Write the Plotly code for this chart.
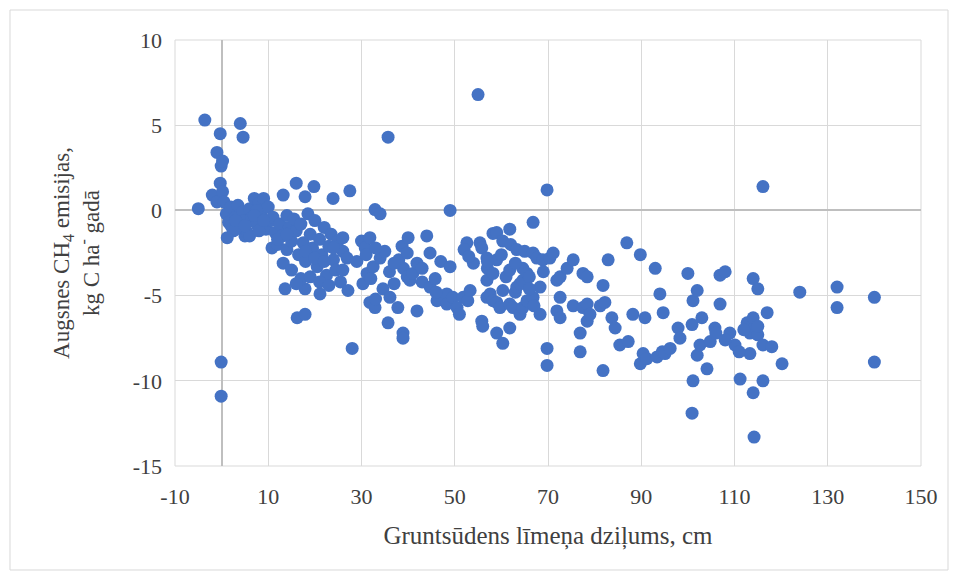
import plotly.graph_objects as go

# Groundwater level depth (cm) and soil CH4 emission (kg C ha-1 yr-1)
depth = [
    -5, -3.6, -2, -1, -0.3, -1, -0.1, 0.2, -0.3, 0.2, 0.5, 4.0, 4.6, -0.1, -0.1,
    1, 1.5, 1.2, 2, 2.5, 3, 3.5, 4, 4.5, 5, 5, 5.5, 6, 6.5, 7, 7.5, 8, 8.5, 9, 9.5, 10, 10.5, 6, 2, 3, 8, 7.5,
    10.8, 11, 11.5, 12, 12.5, 13, 13.2, 13.2, 13.6, 14, 14, 14.5, 15, 15.5, 16, 16, 16.2, 16.5, 17, 17.5,
    17.9, 17.9, 17.9, 18, 18.5, 19, 19.5, 19.8, 20, 20.5, 21, 21.1, 21.5, 22, 22.5, 23, 23.5, 23.9, 24,
    24.5, 25, 25.5, 26, 26, 26.9, 26, 27.5, 27.1, 15, 17, 19, 21, 23, 16, 28,
    29, 30, 30.3, 30.8, 31, 31.2, 31.8, 31.8, 32, 32.5, 32.9, 32.9, 33, 34, 34, 34.6, 35, 35.7, 35.7, 36,
    36.1, 37, 37.8, 38, 38.7, 38.9, 38.9, 39, 39.8, 39.8, 40, 40.4, 41, 41.9, 41.9, 43, 44, 44.7, 44.7,
    45.8, 46.2, 47, 48.3, 48.3, 49, 49, 49.6, 50.5, 51, 51.8, 52.6, 52.8, 53.3, 52, 54, 55.4, 55.8, 55.8,
    56, 56.9, 56.9, 56.9, 55, 57, 57.6, 58.2, 58.2, 58.2,
    59, 59, 59, 59, 59.7, 60, 60.3, 60.3, 60.3, 61, 61.8, 61.8, 61.8, 61.8, 62, 62.5, 63, 63.3, 63.3, 64,
    64, 64.6, 64.6, 64.6, 65, 65.5, 65.5, 66, 66.8, 66.8, 66.8, 67, 67.6, 68.3, 68.3, 68.9, 69, 69.8,
    69.8, 69.8, 70.4,
    71.1, 71.9, 71.9, 72.6, 72.6, 72.6, 74.1, 75.4, 75.4, 76.9, 76.9, 77.5, 77.5, 78.4, 78.4, 78.4, 79,
    81.2, 81.8, 81.8, 82.2, 82.9, 83.7, 84.4, 85.4, 86.9, 87.2, 88.2, 89.8, 89.8, 90.4, 90.8, 91.2,
    93, 93.4, 94, 94.5, 94.7, 95.1, 96.2, 97.9, 98.3, 100, 100.9, 100.9, 101.1, 101.1, 102, 102, 102.6,
    104.1, 104.8, 105.8, 106.9, 106.9, 108, 109, 110.1, 111.2, 112.7, 113.3, 113.3, 114, 114, 114, 114.2,
    115, 115, 116.1, 116.1, 116.1, 117, 118, 120.2, 124, 132, 132, 140, 140,
    103, 106, 108, 111, 112, 115,
    3, 5, 7, 9, 12, 14, 18, 20, 22, 24, 33, 37, 43, 46, 53, 57, 63, 66,
]
emission = [
    0.1, 5.3, 0.9, 0.5, 4.5, 3.4, 2.6, 2.9, 1.6, 1.1, 0.5, 5.1, 4.3, -8.9, -10.9,
    -0.2, -0.7, -1.6, 0.2, -1.2, -0.4, 0.3, -0.9, -0.1, -0.6, -1.5, -1.3, 0.1, -0.4, 0.7, -0.8, 0.4, -0.2, 0.7, -1.1, 0.2, -0.6, -1.5, -0.9, -1.1, -1.2, 0.0,
    -2.2, -0.4, -1.3, -2.0, -0.8, -1.5, 0.9, -3.1, -4.6, -0.3, -2.3, -1.0, -1.8, -0.5, 1.6, -1.2, -6.3, -2.6, -0.8, -1.9,
    0.8, -6.1, -4.6, -3.0, -0.2, -1.4, -2.2, 1.4, -0.6, -3.3, -1.7, -4.9, -2.6, -1.0, -3.8, -2.1, -1.4, 0.7, -2.9,
    -3.5, -1.8, -4.2, -2.4, -1.6, -2.8, -3.5, 1.15, -4.7, -3.5, -4.0, -3.9, -4.2, -4.4, -4.3, -8.1,
    -3.0, -1.8, -4.3, -2.2, -2.6, -3.7, -1.6, -5.4, -4.0, -3.3, 0.05, -5.7, -5.2, -0.2, -2.8, -4.6, -2.4, 4.3, -6.6, -3.6,
    -5.1, -4.3, -5.7, -2.9, -2.1, -7.2, -7.5, -3.4, -3.9, -2.5, -1.6, -4.1, -3.7, -3.1, -5.9, -4.2, -1.5, -2.5, -4.5,
    -4.0, -5.3, -3.0, -4.9, -5.5, 0.0, -3.3, -5.1, -5.7, -6.1, -5.1, -1.9, -5.3, -4.7, -2.3, -3.1, -1.9, -2.2, -6.5,
    -6.8, -2.8, -4.1, -5.1, 6.8, -3.4, -4.9, -1.35, -3.7, -5.3,
    -1.3, -2.9, -5.4, -7.2, -5.7, -2.6, -1.8, -4.7, -7.8, -3.9, -1.1, -3.5, -5.5, -6.9, -2.0, -5.7, -4.8, -2.3, -4.5, -4.3,
    -6.1, -3.4, -4.1, -5.7, -2.4, -3.7, -5.3, -3.9, -0.7, -2.5, -5.1, -5.6, -2.8, -4.5, -6.1, -2.9, -3.6, 1.2,
    -8.1, -9.1, -2.8,
    -2.5, -4.1, -5.9, -3.9, -5.1, -6.3, -3.4, -2.9, -5.6, -7.2, -8.3, -3.7, -5.7, -3.9, -5.5, -6.5, -6.1,
    -5.6, -4.4, -9.4, -5.4, -2.9, -6.3, -6.9, -7.9, -1.9, -7.7, -6.1, -2.6, -9.0, -8.4, -6.3, -8.7,
    -3.4, -8.6, -4.9, -8.3, -6.0, -8.4, -8.1, -6.9, -7.5, -3.7, -6.7, -11.9, -5.3, -10.0, -4.7, -8.5, -7.9,
    -9.3, -7.7, -6.9, -3.8, -5.5, -3.6, -7.2, -7.9, -9.9, -6.6, -7.2, -8.4, -4.0, -6.3, -10.7, -13.3,
    -4.6, -7.3, 1.4, -7.9, -10.0, -6.0, -8.0, -9.0, -4.8, -4.5, -5.7, -5.1, -8.9,
    -6.3, -7.2, -7.6, -8.3, -7.0, -6.8,
    -0.6, -0.9, -0.3, -0.6, -1.7, -1.4, -2.4, -2.8, -3.0, -2.2, -2.2, -3.1, -3.4, -4.8, -2.7, -3.0, -3.1, -4.6,
]

x_ticks = [-10, 10, 30, 50, 70, 90, 110, 130, 150]
y_ticks = [-15, -10, -5, 0, 5, 10]

family = "Liberation Serif, Times New Roman, serif"
txt_color = "#404040"

fig = go.Figure()
fig.add_trace(go.Scatter(
    x=depth, y=emission, mode="markers",
    marker=dict(color="#4472C4", size=13, line=dict(width=0)),
    showlegend=False,
))

fig.update_layout(
    width=958, height=579,
    margin=dict(l=175, r=37, t=40, b=113),
    paper_bgcolor="white", plot_bgcolor="white",
    font=dict(family=family, size=22, color=txt_color),
    xaxis=dict(
        range=[-10, 150], tickvals=x_ticks, ticktext=[str(v) for v in x_ticks],
        showgrid=True, gridcolor="#d9d9d9", gridwidth=1,
        zeroline=True, zerolinecolor="#bfbfbf", zerolinewidth=1.5,
        showline=False, ticks="", ticklabelstandoff=15,
        tickfont=dict(family=family, size=22, color=txt_color),
        title=dict(text="Gruntsūdens līmeņa dziļums, cm", standoff=18,
                   font=dict(family=family, size=25, color=txt_color)),
    ),
    yaxis=dict(
        range=[-15, 10], tickvals=y_ticks, ticktext=[str(v) for v in y_ticks],
        showgrid=True, gridcolor="#d9d9d9", gridwidth=1,
        zeroline=True, zerolinecolor="#bfbfbf", zerolinewidth=1.5,
        showline=False, ticks="", ticklabelstandoff=12,
        tickfont=dict(family=family, size=22, color=txt_color),
        title=dict(text="Augsnes CH<sub>4</sub> emisijas,<br>kg C ha<sup>-</sup> gadā", standoff=26,
                   font=dict(family=family, size=23, color=txt_color)),
    ),
    shapes=[
        dict(type="rect", xref="paper", yref="paper",
             x0=-0.2212, x1=1.0362, y0=-0.2441, y1=1.0704,
             line=dict(color="#d9d9d9", width=1), fillcolor="rgba(0,0,0,0)", layer="below"),
        dict(type="rect", xref="paper", yref="paper", x0=0, x1=1, y0=0, y1=1,
             line=dict(color="#d9d9d9", width=1), fillcolor="rgba(0,0,0,0)", layer="below"),
    ],
)

fig.write_html("out.html")
